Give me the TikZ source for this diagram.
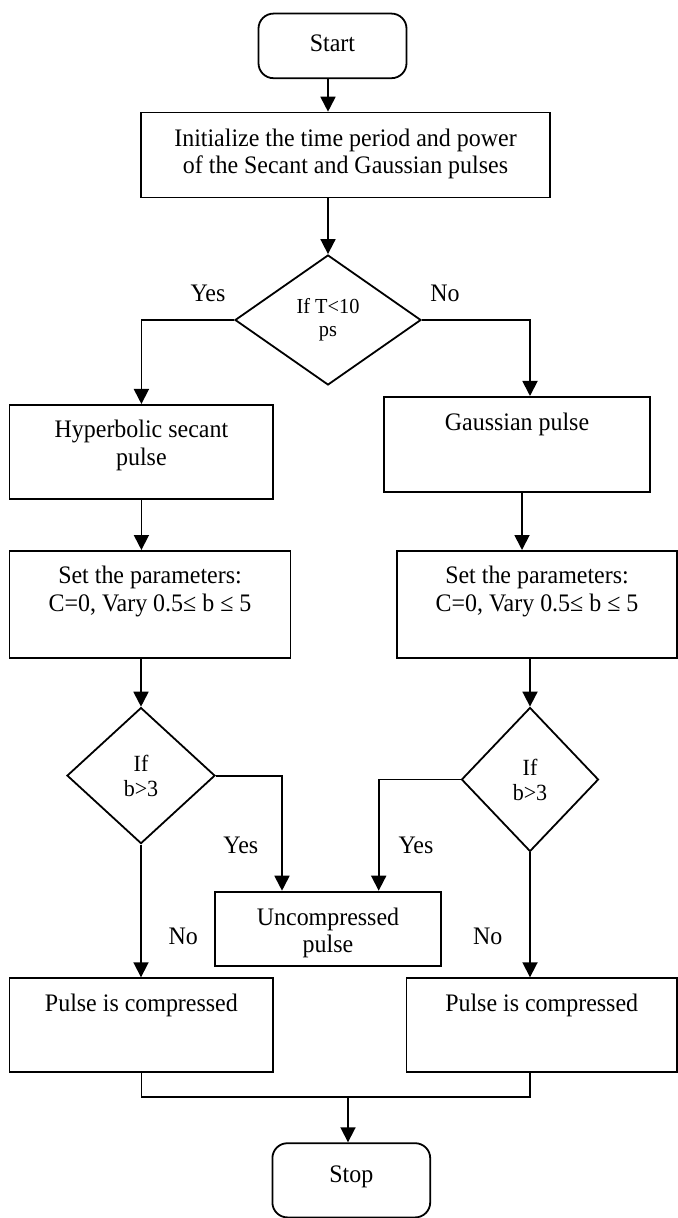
\documentclass[tikz,border=0pt]{standalone}
\usepackage{fontspec}
\setmainfont{Liberation Serif}[FakeStretch=0.95]
\usetikzlibrary{arrows.meta, shapes.geometric}

\begin{document}
\begin{tikzpicture}[x=0.5pt, y=-0.5pt, line width=0.9pt,
    every node/.style={font=\fontsize{12.6pt}{13.7pt}\selectfont},
    pbox/.style n args={3}{draw, rectangle, anchor=north, inner sep=0pt,
      text width=#1, align=flush center, text height=#2, text depth=#3},
    term/.style={rounded corners=7.5pt},
    decision/.style={draw, diamond, inner sep=0pt, align=center,
      font=\fontsize{11.6pt}{12.5pt}\selectfont},
    arr/.style={-{Triangle[length=7.5pt, width=7.5pt]}}]
  \useasboundingbox (0,0) rectangle (678,1218);

  \node[pbox={74pt}{19pt}{13.3pt}, term] (start) at (332.5,12.7) {Start};
  \node[pbox={204.5pt}{17pt}{25.5pt}] (init) at (345.5,111.7)
    {Initialize the time period and power\\of the Secant and Gaussian pulses};
  \node[decision, minimum width=93pt, minimum height=65pt,
    font=\fontsize{10.7pt}{11.4pt}\selectfont] (dia1) at (328,320) {If T<10\\ps};
  \node[pbox={131.85pt}{16.5pt}{30.65pt}] (hyp) at (141.4,404) {Hyperbolic secant\\pulse};
  \node[pbox={132.75pt}{17pt}{30.35pt}] (gauss) at (517,396) {Gaussian pulse};
  \node[pbox={140.5pt}{16.5pt}{36.85pt}] (setL) at (150,550)
    {Set the parameters:\\C=0, Vary 0.5≤ b ≤ 5};
  \node[pbox={140pt}{16.5pt}{36.85pt}] (setR) at (537,550)
    {Set the parameters:\\C=0, Vary 0.5≤ b ≤ 5};
  \node[decision, minimum width=74pt, minimum height=68pt] (diaL) at (141,775.6) {If\\b>3};
  \node[decision, minimum width=68.5pt, minimum height=72pt] (diaR) at (530,779.5) {If\\b>3};
  \node[pbox={113pt}{16.7pt}{20.45pt}] (unc) at (328,890.7) {Uncompressed\\pulse};
  \node[pbox={131.85pt}{16.7pt}{30pt}] (pcL) at (141.4,977.3) {Pulse is compressed};
  \node[pbox={135.3pt}{16.7pt}{30pt}] (pcR) at (541.7,977.3) {Pulse is compressed};
  \node[pbox={78.9pt}{19.7pt}{17.4pt}, term] (stop) at (351.3,1142.3) {Stop};

  \node (yes1) at (208,293) {Yes};
  \node (no1) at (445,293) {No};
  \node (yes2) at (240.8,845) {Yes};
  \node (yes3) at (416,845) {Yes};
  \node (no2) at (183.3,936.7) {No};
  \node (no3) at (487.7,936.7) {No};

  \draw[arr] (dia1.north |- start.south) -- (dia1.north |- init.north);
  \draw[arr] (dia1.north |- init.south) -- (dia1.north);
  \draw[arr] (dia1.west) -| (hyp.north);
  \draw[arr] (dia1.east) -| (diaR.north |- gauss.north);
  \draw[arr] ([xshift=2.5pt]gauss.south) -- ([xshift=2.5pt]gauss.south |- setR.north);
  \draw[arr] (hyp.south) -- (hyp.south |- setL.north);
  \draw[arr] (diaL.north |- setL.south) -- (diaL.north);
  \draw[arr] (diaR.north |- setR.south) -- (diaR.north);
  \draw[arr] (diaL.east) -| ([xshift=-23pt]unc.north);
  \draw[arr] (diaR.west) -| ([xshift=25.35pt]unc.north);
  \draw[arr] (diaL.south) -- (diaL.south |- pcL.north);
  \draw[arr] (diaR.south) -- (diaR.south |- pcR.north);
  \coordinate (merge) at (348,1097.3);
  \draw (pcL.south) |- (merge) -| (diaR.south |- pcR.south);
  \draw[arr] (merge) -- (merge |- stop.north);
\end{tikzpicture}
\end{document}
